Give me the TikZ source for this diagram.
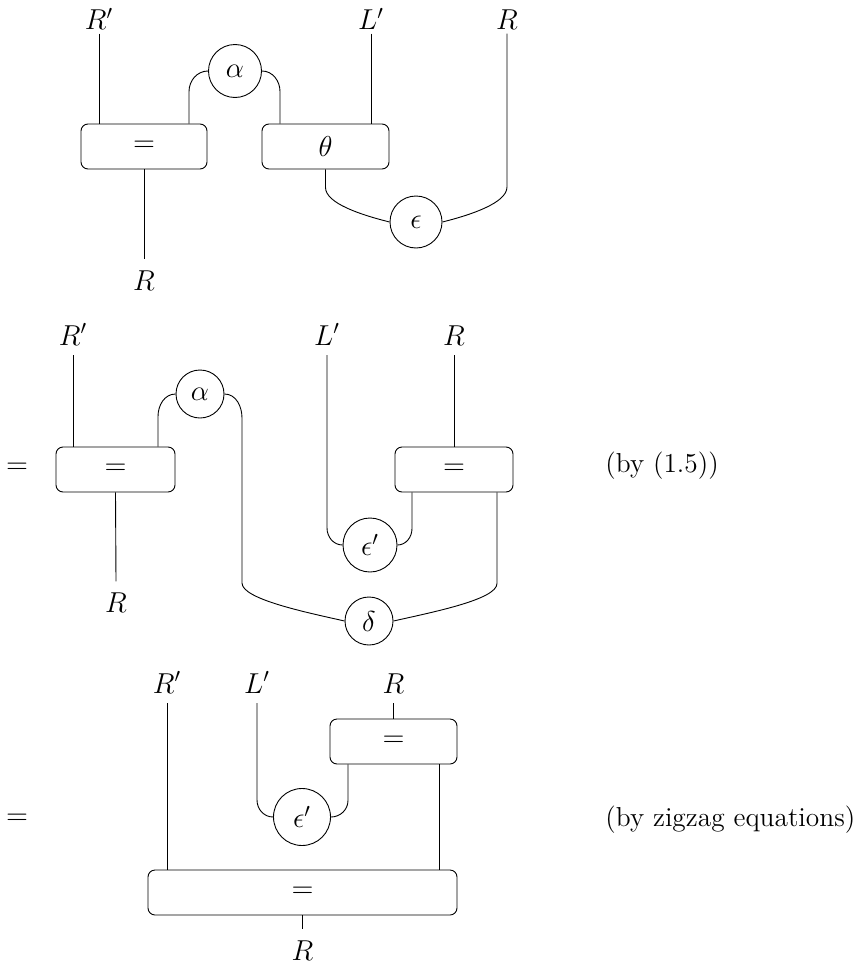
\documentclass[tikz,border=0pt]{standalone}
\begin{document}
\begin{tikzpicture}[x=0.5pt,y=-0.5pt,
  font=\fontsize{14}{17}\selectfont,
  wire/.style={line width=0.45pt},
  box/.style={draw, rounded corners=3.5pt, minimum height=22.5pt, inner sep=0pt, line width=0.45pt},
  blob/.style={draw, circle, inner sep=0pt, line width=0.45pt},
  toplab/.style={anchor=base, inner sep=0pt, outer sep=5pt},
  edgelab/.style={anchor=base, inner sep=0pt, outer sep=2pt},
  botlab/.style={anchor=base, inner sep=0pt, outer sep=5.5pt},
  remark/.style={anchor=west, inner sep=0pt, font=\fontsize{13.7}{16}\selectfont}]
\useasboundingbox (0,0) rectangle (859,969);

% ---------- diagram 1 ----------
\node[box, minimum width=63pt] (b1) at (144,146.5) {$=$};
\node[box, minimum width=63.5pt] (th) at (325.5,146.5) {$\theta$};
\node[blob, minimum size=26.5pt] (al1) at (235,71) {$\alpha$};
\node[blob, minimum size=26pt] (ep1) at (416,222) {$\epsilon$};
\node[edgelab] (r1t) at (99,29.5) {$R'$};
\node[edgelab] (l1t) at (371,29.5) {$L'$};
\node[edgelab] (r1tt) at (507,29.5) {$R$};
\node[botlab] (r1b) at (144,290) {$R$};
\coordinate (c1) at (507,187);

\draw[wire] (r1t.south) -- (r1t.south |- b1.north);
\draw[wire] (l1t.south) -- (l1t.south |- th.north);
\draw[wire] ([xshift=22.5pt]b1.north) -- ++(0,-32) to[out=90,in=180] (al1.west);
\draw[wire] ([xshift=-22.75pt]th.north) -- ++(0,-32) to[out=90,in=0] (al1.east);
\draw[wire] (th.south) -- ++(0,18) .. controls +(0,16) and +(-28,-7) .. (ep1.west);
\draw[wire] (r1tt.south) -- (c1) .. controls +(0,16) and +(28,-7) .. (ep1.east);
\draw[wire] (b1.south) -- (r1b.north);

% ---------- diagram 2 ----------
\node (eq2) at (17,468) {$=$};
\node[box, minimum width=59.5pt] (bA) at (115.5,469.5) {$=$};
\node[box, minimum width=59pt] (bB) at (454,469.5) {$=$};
\node[blob, minimum size=24pt] (al2) at (200,394) {$\alpha$};
\node[blob, minimum size=27pt] (ep2) at (370,545) {$\epsilon'$};
\node[blob, minimum size=24pt] (de) at (369,621) {$\delta$};
\node[toplab] (r2t) at (73,345) {$R'$};
\node[toplab] (l2t) at (327,345) {$L'$};
\node[toplab] (r2tt) at (454,345) {$R$};
\node[botlab] (r2b) at (116,612) {$R$};
\coordinate (c2a) at (242,418);
\coordinate (c2b) at (242,583);
\coordinate (c2c) at (327,528);
\node[remark] (by1) at (605,466) {(by (1.5))};

\draw[wire] (r2t.south) -- (r2t.south |- bA.north);
\draw[wire] ([xshift=21.25pt]bA.north) -- ++(0,-30) to[out=90,in=180] (al2.west);
\draw[wire] (al2.east) to[out=0,in=90] (c2a) -- (c2b) .. controls +(0,16) and +(-40,-9) .. (de.west);
\draw[wire] ([xshift=21.5pt]bB.south) -- ++(0,91) .. controls +(0,16) and +(40,-9) .. (de.east);
\draw[wire] (l2t.south) -- (c2c) to[out=-90,in=180] (ep2.west);
\draw[wire] ([xshift=-21pt]bB.south) -- ++(0,36) to[out=-90,in=0] (ep2.east);
\draw[wire] (r2tt.south) -- (bB.north);
\draw[wire] (bA.south) -- (r2b.north);

% ---------- diagram 3 ----------
\node (eq3) at (17,819) {$=$};
\node[box, minimum width=63.5pt] (bC) at (393.5,741.5) {$=$};
\node[box, minimum width=154.5pt] (bD) at (302.5,892.5) {$=$};
\node[blob, minimum size=28.5pt] (ep3) at (302,817) {$\epsilon'$};
\node[toplab] (r3t) at (167,693) {$R'$};
\node[toplab] (l3t) at (257,693) {$L'$};
\node[toplab] (r3tt) at (393.5,693) {$R$};
\node[botlab] (r3b) at (302.5,960) {$R$};
\coordinate (c3a) at (257,800);
\coordinate (c3b) at ([xshift=22.75pt]bC.south);
\node[remark] (by2) at (605,820) {(by zigzag equations)};

\draw[wire] (r3t.south) -- (r3t.south |- bD.north);
\draw[wire] (l3t.south) -- (c3a) to[out=-90,in=180] (ep3.west);
\draw[wire] ([xshift=-22.75pt]bC.south) -- ++(0,36) to[out=-90,in=0] (ep3.east);
\draw[wire] (c3b) -- (c3b |- bD.north);
\draw[wire] (r3tt.south) -- (bC.north);
\draw[wire] (bD.south) -- (r3b.north);
\end{tikzpicture}
\end{document}
